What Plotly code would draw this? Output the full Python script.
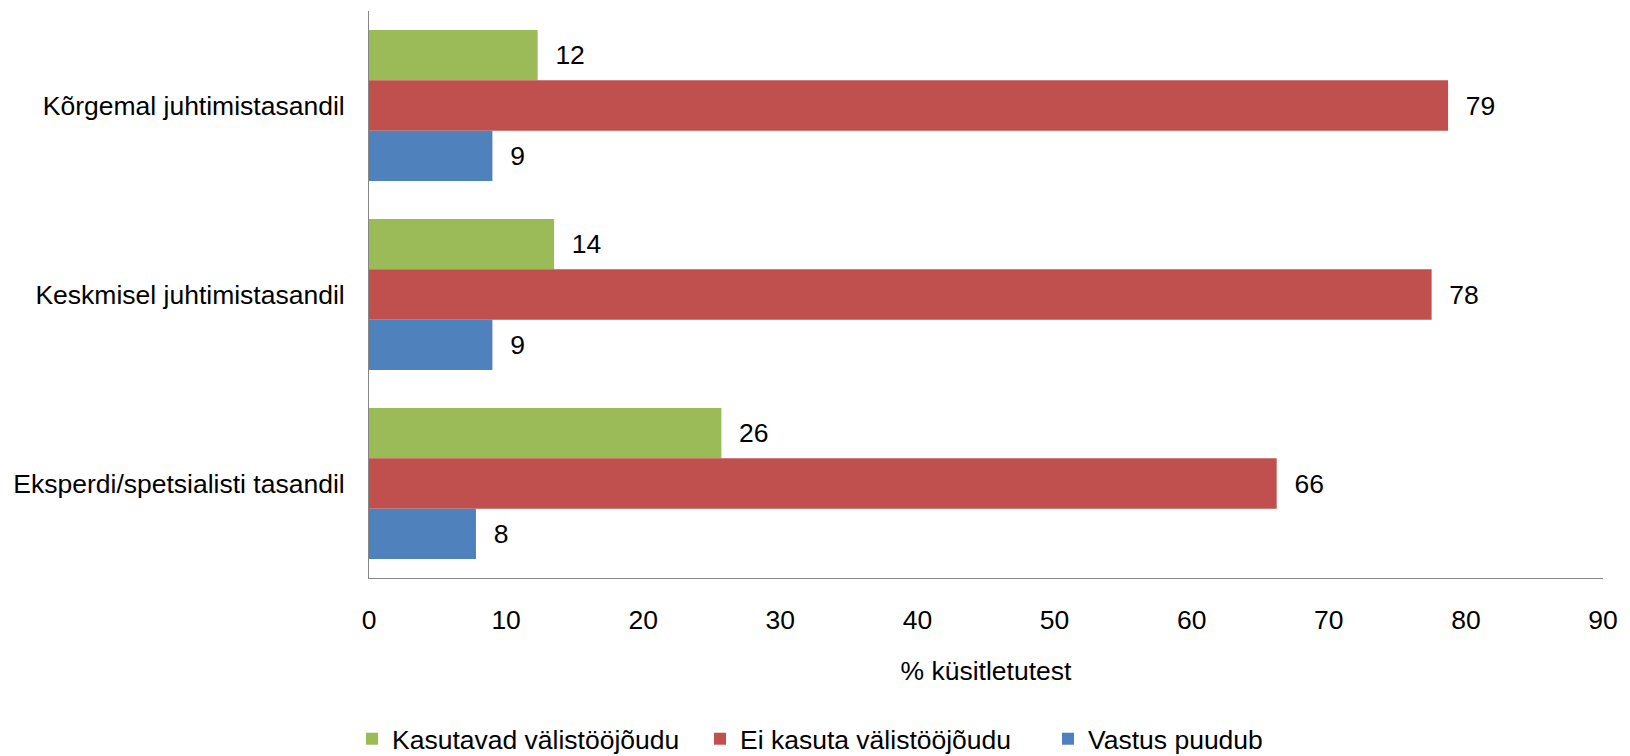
import plotly.graph_objects as go

categories = ["Kõrgemal juhtimistasandil", "Keskmisel juhtimistasandil", "Eksperdi/spetsialisti tasandil"]
series_names = ["Kasutavad välistööjõudu", "Ei kasuta välistööjõudu", "Vastus puudub"]
kasutavad = [12.3, 13.5, 25.7]
ei_kasuta = [78.7, 77.5, 66.2]
vastus_puudub = [9.0, 9.0, 7.8]
x_ticks = [0, 10, 20, 30, 40, 50, 60, 70, 80, 90]
colors = ["#9BBB59", "#C0504D", "#4F81BD"]

FONT = "Liberation Sans, Arial"
FS = 26.5
NB = "\u00a0"
fig = go.Figure()
for name, vals, col in zip(series_names, [kasutavad, ei_kasuta, vastus_puudub], colors):
    fig.add_trace(go.Bar(
        y=categories, x=vals, name=name, orientation="h",
        marker=dict(color=col, line=dict(width=0)),
        text=[f"{round(v):d}" for v in vals],
        texttemplate=NB * 2 + "%{text}",
        textposition="outside",
        textfont=dict(family=FONT, size=FS, color="#000000"),
        cliponaxis=False,
    ))

fig.update_layout(
    width=1622, height=748,
    margin=dict(l=361, r=27, t=3, b=178),
    paper_bgcolor="white", plot_bgcolor="white",
    barmode="group", bargap=0.2, bargroupgap=0,
    font=dict(family=FONT, size=FS, color="#000000"),
    showlegend=True,
    legend=dict(orientation="h", xref="container", x=344 / 1622, xanchor="left",
                yref="container", y=1 - 731 / 748, yanchor="middle",
                entrywidth=303, entrywidthmode="pixels",
                font=dict(size=FS)),
)
fig.update_xaxes(range=[0, 90], tickvals=x_ticks, showgrid=False, zeroline=False,
                 showline=True, linecolor="#868686", linewidth=1, ticks="",
                 ticklabelstandoff=18,
                 title=dict(text="% küsitletutest", standoff=27, font=dict(size=FS)))
fig.update_yaxes(autorange="reversed", showgrid=False, zeroline=False,
                 showline=True, linecolor="#868686", linewidth=1, ticks="",
                 ticklabelstandoff=18)

fig.write_html("out.html")
